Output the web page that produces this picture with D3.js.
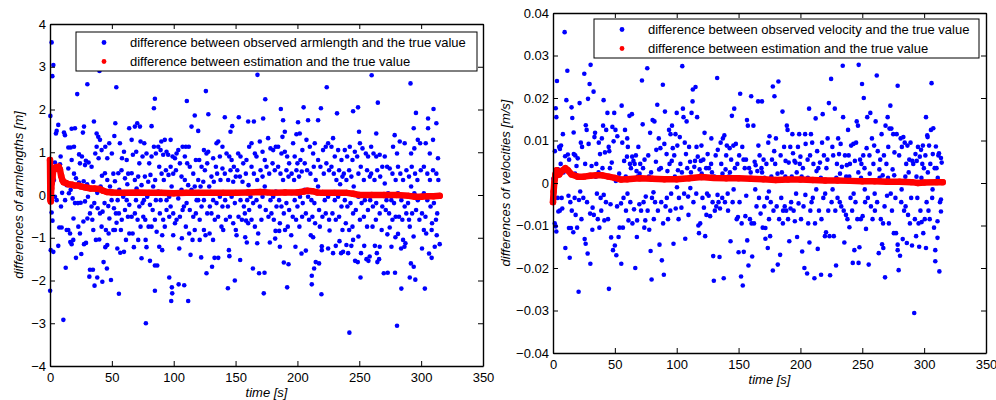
<!DOCTYPE html>
<html>
<head>
<meta charset="utf-8">
<script src="https://cdn.jsdelivr.net/npm/d3@7"></script>
<style>
  body { margin: 0; background: #fff; }
  svg { display: block; font-family: "Liberation Sans", Arial, sans-serif; }
  .axis text { font-size: 13px; fill: #000; }
  .axis path, .axis line { stroke: #000; }
</style>
</head>
<body>
<script>
var WIDTH = 996, HEIGHT = 400;

// shared x axis
var timeTicks = [0, 50, 100, 150, 200, 250, 300, 350];
var armTicks = [-4, -3, -2, -1, 0, 1, 2, 3, 4];
var velTicks = [-0.04, -0.03, -0.02, -0.01, 0, 0.01, 0.02, 0.03, 0.04];

var armLegend = ["difference between observed armlength and the true value",
                 "difference between estimation and the true value"];
var velLegend = ["difference between observed velocity and the true value",
                 "difference between estimation and the true value"];

// left panel: observed armlength differences [time s, diff m]
var armObserved = [
[0.3,1.85],[1.3,3.57],[2.7,3.04],[1.9,2.78],[0.1,-2.24],[0.8,0.55],[1.3,-0.41],[0.6,-1.29],[2.7,-1.33],[4,0.76],[4.8,1.44],[5.4,1.5],[6.7,1.64],[8.6,0.9],[7.5,-0.76],[9.4,-0.76],[6.7,-1.19],[5.4,-0.12],[4,-0.04],[8.9,-0.27],[8.1,0.72],[3.2,0.35],[9.8,0.05],[2,-0.6],
[10.8,-2.92],[11.3,1.46],[12.1,1.4],[14.8,1.11],[16.7,1.11],[17.5,1.55],[19.4,1.13],[20.2,1.56],[12.7,-1.7],[13.5,-0.82],[14.8,-0.82],[16.2,-0.9],[17.5,-1.15],[16.4,-1.1],[18.8,-1.05],[21,-1.47],[12.2,-0.12],[13.5,0.23],[14.8,0.62],[16.7,0.12],[18.3,-0.08],[19.4,0.5],[21,0.39],[17.5,0.82],[15.3,0.04],[20.2,-0.19],[11.5,0.3],[19,-0.55],
[22,2.36],[30.2,2.59],[24.2,0.74],[25.8,0.9],[26.6,1.46],[27.5,1.6],[28.3,0.7],[29,0.8],[31.2,0.76],[23.4,0.29],[25.3,0.2],[27.2,0.32],[30,0.25],[22.6,-0.19],[24.8,-0.18],[28.3,-0.15],[30.7,-0.04],[24.2,-0.9],[25.3,-1.38],[27.5,-1.15],[29.1,-1.12],[31.8,-1.91],[30.2,-0.55],[32.3,-0.43],[27,-0.62],[22.9,-0.74],[32.3,-1.75],[23.5,0.95],
[34.7,-1.75],[36,-2.12],[38.2,-1.93],[42.3,-2.03],[40,2.9],[35.5,1.72],[37.7,1.44],[39,1.36],[40.4,1.29],[37.7,1.13],[36.6,0.97],[41.7,1.05],[39.3,0.86],[33.6,0.66],[35,0.31],[36.3,0.16],[38.2,0.05],[40.9,0.2],[33.6,-0.27],[35.8,-0.19],[38.5,-0.31],[40.4,-0.43],[42.5,-0.39],[35,-0.82],[37.1,-1.05],[39.8,-1.04],[41.7,-0.74],[34.2,-0.58],[42,0.45],
[43.3,-1.57],[46,-1.72],[49.3,-1.99],[53.6,2.52],[44.7,1.13],[46.3,0.86],[47.9,1.21],[50,0.97],[52,1.38],[52.8,1.68],[44.4,0.51],[46.3,0.35],[48.5,0.2],[51.2,0.5],[52.5,0.32],[44.1,-0.19],[47.1,-0.26],[49.8,-0.12],[51.7,-0.31],[53.3,-0.43],[45.2,-0.82],[47.4,-0.9],[46.3,-1.17],[44.7,-1.22],[51.2,-0.82],[52.5,-0.82],[53.8,-0.65],[48,-0.55],
[54.4,-1.25],[56.8,-1.35],[59.8,-1.33],[55.7,-2.31],[56.5,1.21],[58.2,0.86],[59.8,1.01],[62,0.82],[64,1.56],[55.2,0.51],[57.8,0.58],[60.6,0.39],[63.2,0.5],[56,0.12],[59.2,-0.04],[62,-0.12],[64.1,-0.23],[55.7,-0.43],[58,-0.58],[60.6,-0.35],[63,-0.51],[57.3,-0.82],[61.4,-1.05],[64.1,-0.9],[54.7,-0.12],[62.5,0.25],
[67.8,-1.22],[74,-1.48],[71.3,-1.05],[66,1.29],[68.6,1.6],[70.5,1.68],[72.7,1.6],[73.2,1.25],[67,0.94],[69.7,1.01],[72.2,0.74],[74.8,0.9],[66,0.51],[68.6,0.35],[71.3,0.43],[74,0.23],[66.8,0.04],[69.5,-0.12],[72.2,-0.27],[74.8,-0.19],[66,-0.51],[68.6,-0.43],[70.8,-0.58],[73.2,-0.74],[75.4,-0.51],[66.8,-0.9],[70,0.15],
[77.5,-3.0],[77.3,-1.05],[78,-1.22],[80.8,-1.54],[84.8,-1.65],[84.8,-2.24],[84,2.03],[84.8,2.25],[82.1,1.61],[76.2,1.21],[78,0.97],[80.2,0.74],[82.1,0.9],[84,1.13],[85.6,0.97],[76.7,0.43],[79.4,0.31],[81.2,0.47],[83.4,0.2],[85,0.35],[75.9,-0.12],[78.6,-0.04],[80.8,-0.23],[83,-0.35],[85.6,-0.12],[77,-0.58],[79.7,-0.74],[82.1,-0.74],[84.8,-0.58],[86.2,-0.86],
[86.7,-1.65],[88.3,-1.21],[90.7,-0.94],[90.7,-1.29],[96.4,-1.93],[87.5,1.13],[89.4,1.05],[91.5,0.94],[92.8,1.29],[94.2,1.01],[95.5,0.94],[88.3,0.66],[90.2,0.5],[92,0.35],[93.7,0.58],[95.8,0.47],[87.5,0.08],[89.4,-0.12],[91.5,0.04],[94.2,-0.12],[96.4,-0.04],[88.8,-0.43],[91.5,-0.58],[94.2,-0.35],[96.4,-0.51],[92.8,-0.74],[90,1.25],
[98,-2.48],[98.8,-2.3],[98.5,-2.16],[104,-2.09],[99.6,-0.94],[104.5,-1.25],[106.6,-1.01],[97.5,1.29],[99.1,0.9],[101,0.86],[102.3,0.97],[103.7,1.05],[107.2,1.13],[97.5,0.66],[99.6,0.5],[101.8,0.58],[105,0.74],[106.3,0.43],[98.3,0.2],[101,0.04],[103.7,-0.08],[106.3,0.12],[97.5,-0.27],[99.6,-0.43],[102.3,-0.58],[105,-0.51],[107.2,-0.35],[101,-0.66],
[108.5,-2.11],[111.7,-2.48],[113.6,-1.4],[110.6,2.2],[117,1.86],[114.4,1.6],[109.8,1.13],[112.2,1.13],[109,0.9],[110.9,0.74],[113,0.66],[115.8,0.5],[117.9,0.82],[109,0.35],[111.7,0.23],[114.4,0.12],[117,0.2],[108.2,-0.27],[110.4,-0.19],[113,-0.35],[115.8,-0.51],[117.9,-0.43],[109.8,-0.74],[112.5,-0.9],[115.2,-1.05],[117,-0.82],[118.5,-0.12],
[122.2,-1.46],[121,-1.05],[125.7,-0.94],[129,-0.9],[126,2.43],[128,1.89],[119.8,1.5],[124.4,1.05],[126.5,0.97],[127.9,1.01],[120.6,0.82],[122.5,0.66],[125.2,0.58],[127.1,0.74],[119.8,0.35],[121.7,0.2],[123.9,0.31],[126,0.04],[128.7,0.2],[119.8,-0.12],[122.5,-0.27],[124.4,-0.12],[127.1,-0.43],[129.2,-0.27],[121,-0.58],[124.4,-0.82],[126.5,-1.83],
[133,-1.47],[136,-1.47],[131,-1.68],[131.8,-1.05],[134.6,1.21],[136,1.25],[131.9,0.86],[134.1,0.66],[137.3,0.9],[139.4,1.13],[130.5,0.43],[132.4,0.31],[135.1,0.5],[137.8,0.35],[139.4,0.62],[129.7,0.04],[131.9,-0.12],[134.6,-0.19],[137.3,-0.04],[139.4,-0.27],[130.5,-0.43],[133.2,-0.58],[135.9,-0.51],[138.6,-0.74],[140,-0.82],
[143.8,-2.18],[149.4,-2.0],[144.6,-1.29],[145,-1.43],[150.8,-0.94],[141.3,1.82],[145.9,1.48],[147.3,1.61],[152.6,1.82],[142.7,0.97],[144.9,0.9],[146.8,0.82],[148.6,0.66],[141.3,0.5],[144,0.35],[145.9,0.58],[148.1,0.31],[150.2,0.43],[141.6,-0.12],[143.8,-0.27],[146.8,-0.04],[149.4,-0.19],[142.2,-0.58],[145.4,-0.51],[148.1,-0.66],[150.2,-0.82],
[153.7,-1.52],[157.8,-0.99],[159.1,-1.11],[160.2,1.72],[152.1,0.97],[154,0.9],[156.2,0.74],[158.8,0.82],[161,1.13],[151.4,0.58],[153.5,0.43],[155.6,0.31],[158.3,0.5],[160.5,0.23],[152.1,0.04],[154,-0.12],[156.7,-0.27],[159.4,-0.12],[161,-0.35],[152.4,-0.51],[155.1,-0.58],[157.5,-0.43],[160.2,-0.66],[158.5,-0.6],
[164,-1.72],[169,-1.83],[167.5,-1.13],[167.7,2.81],[172.3,1.79],[164.8,1.72],[162.9,1.21],[165.6,0.97],[166.9,0.9],[169.6,1.25],[171.8,1.01],[162.9,0.66],[164.8,0.5],[167.5,0.35],[170.2,0.58],[171.8,0.43],[162.1,-0.04],[164.2,-0.19],[166.9,-0.12],[169.6,-0.27],[171.8,-0.04],[162.9,-0.58],[165.6,-0.74],[168.3,-0.9],[170.9,-0.58],
[172.8,-2.3],[173.4,-1.82],[174,2.24],[177.7,-1.11],[182,-1.02],[182.3,-0.84],[176.3,1.33],[178.2,1.09],[180.4,1.05],[182.5,1.13],[173.6,0.82],[175,0.66],[177.2,0.5],[179.9,0.74],[181.7,0.58],[173.6,0.2],[175.8,0.04],[178.2,-0.12],[180.4,-0.04],[182.5,0.08],[174.4,-0.35],[176.6,-0.51],[179,-0.43],[180.9,-0.58],[183.1,-0.27],
[186.6,2.01],[189,-1.58],[191.7,-2.16],[192.8,-1.62],[185.8,-1.21],[185.3,-0.84],[188.4,1.75],[189.8,1.48],[187.9,1.36],[184.4,1.13],[187.1,0.97],[189.8,1.01],[191.7,0.9],[193.3,0.74],[184.4,0.66],[186.3,0.5],[188.4,0.35],[191.1,0.58],[192.8,0.43],[185.2,-0.12],[187.1,-0.27],[189,-0.43],[191.1,-0.19],[193.3,-0.35],[185.8,-0.66],[190,-0.82],[192.2,-0.74],
[195,-0.94],[198.4,-1.21],[203.3,-1.37],[199.2,1.42],[200.5,1.7],[201.9,1.44],[196.5,1.21],[197.8,0.9],[200,0.74],[202.4,0.82],[204,1.05],[195.3,0.5],[197.3,0.35],[199.2,0.58],[201.3,0.43],[203.5,0.55],[195.3,0.04],[197.8,-0.12],[200,-0.27],[202.1,-0.04],[204.3,-0.19],[196.2,-0.51],[198.9,-0.58],[201.6,-0.74],[203.8,-0.51],
[205,2.05],[206.8,-1.3],[210.8,-0.94],[211.6,-2.09],[211.6,-1.89],[213.5,-1.72],[214.8,-1.57],[212.7,-0.99],[208.6,1.75],[207.3,1.29],[210,1.13],[212.7,0.97],[214,1.21],[205.9,0.74],[207.8,0.58],[210.5,0.5],[213.2,0.66],[214.8,0.35],[205.9,0.12],[208.6,-0.04],[211.3,-0.12],[213.7,-0.19],[206.8,-0.43],[209.4,-0.58],[212.1,-0.51],[214.3,-0.66],
[217.5,-1.6],[219,2.03],[219.4,-2.32],[219.7,-1.2],[219.7,-1.29],[223.7,2.52],[224.8,-1.25],[226,-0.83],[216.7,1.75],[220.7,1.05],[222.9,1.13],[224.8,1.21],[216.7,0.82],[218.6,0.66],[221.3,0.5],[223.4,0.74],[225.6,0.58],[216.7,0.2],[219.4,0.04],[222.1,-0.12],[224.8,-0.04],[217.5,-0.35],[220.2,-0.51],[222.9,-0.43],[225.6,-0.58],[218.1,-0.74],
[228.8,-1.36],[231,-1.19],[232,1.91],[234,-1.08],[235.3,-1.36],[236.9,-1.33],[228.8,1.33],[227.5,1.13],[230.2,0.9],[232.9,1.05],[235.6,0.82],[227.5,0.66],[229.4,0.5],[231.5,0.35],[233.7,0.58],[236.4,0.43],[227.5,0.04],[230.2,-0.12],[232.9,-0.04],[235.6,-0.27],[228.3,-0.43],[231,-0.58],[233.7,-0.51],[236.4,-0.82],[234.5,0.25],
[239.6,-1.17],[241,-1.36],[242,-3.22],[243.6,-1.19],[245,-1.05],[245,1.96],[246.6,-1.54],[238.3,1.05],[240.2,0.9],[242.3,1.13],[244.5,0.82],[246.4,1.01],[237.5,0.5],[239.6,0.35],[241.8,0.58],[243.6,0.43],[245.5,0.2],[238.3,-0.12],[240.4,-0.27],[242.9,-0.19],[245,-0.43],[247.2,-0.35],[239.1,-0.66],[241.8,-0.82],[244.5,-0.74],
[248.8,-1.57],[249,2.05],[249.3,-0.97],[251,-1.93],[251.4,-1.36],[254,-1.19],[255.8,-1.5],[257.4,-1.54],[249.8,1.48],[248.3,0.9],[250.5,1.21],[252.6,1.09],[255.3,0.97],[257.1,0.9],[249.3,0.5],[251.2,0.66],[253.7,0.35],[256.3,0.58],[258.5,0.43],[249.3,-0.04],[251.9,-0.19],[254.5,-0.12],[257,-0.35],[250.5,-0.58],[253.7,-0.51],[256.3,-0.74],
[258.4,-1.44],[260,2.8],[262.6,-1.19],[264.2,-1.36],[264.6,-1.57],[265,2.16],[266,-1.5],[266.5,-1.21],[263.7,1.44],[259.6,1.13],[261.5,0.97],[263.7,0.9],[266.5,0.94],[268.6,0.66],[259.6,0.5],[262.3,0.35],[264.5,0.58],[266.9,0.43],[258.8,-0.12],[261,-0.27],[263.7,-0.19],[266.5,-0.43],[268.6,-0.27],[260.7,-0.74],[263.4,-0.58],[268.1,-0.82],
[269.8,-1.83],[273,-1.82],[272.7,-0.92],[274.6,-0.76],[276,-1.21],[278.9,-1.82],[279.2,-0.99],[278.6,1.4],[277.3,1.13],[270.6,0.9],[272.5,0.66],[274.6,0.62],[276.8,0.5],[279.4,0.35],[270.6,0.27],[273.3,0.04],[275.9,-0.12],[278.1,-0.19],[271.4,-0.35],[274.1,-0.43],[276.8,-0.58],[279.4,-0.51],[272,-0.12],
[280.5,-3.06],[281.3,-0.91],[283.8,-1.25],[284,-2.19],[285.4,-1.05],[286.5,-1.21],[287.3,-1.13],[290.8,-0.74],[282.7,1.25],[286.7,1.21],[281.3,0.66],[283.2,0.5],[285.4,0.35],[288.1,0.58],[290.2,0.43],[281.3,0.04],[284,-0.12],[286.7,-0.27],[289.4,-0.19],[282.1,-0.51],[284.8,-0.58],[288,-0.43],[290.2,-0.58],[280.5,0.97],
[291.4,2.61],[290.8,-1.93],[291.7,-1.6],[294,-1.68],[295.3,-1.98],[295.8,1.92],[293.9,-0.97],[300.7,-1.25],[294,1.56],[291.9,0.97],[294.5,1.09],[297.3,1.29],[299.2,1.21],[292.4,0.66],[295.1,0.5],[297,0.35],[299.7,0.58],[291.9,0.2],[294.5,0.04],[297.3,-0.12],[299.9,-0.04],[292.7,-0.43],[295.9,-0.35],[298.6,-0.58],[300.7,-0.43],
[303,-2.19],[305.6,1.79],[306.4,-1.37],[308.5,-1.47],[310,2.01],[311,-1.21],[312.6,-0.94],[315,-1.15],[302.2,-0.82],[304.1,-0.9],[308.5,-0.82],[305.6,1.56],[309.6,1.29],[303.7,1.21],[307,0.97],[312.3,1.68],[313.6,0.86],[302.2,0.66],[305,0.5],[307.1,0.35],[309.6,0.58],[312.3,0.5],[313.9,0.35],[302.2,0.04],[305,-0.12],[307.6,-0.27],[310.3,-0.19],[313,-0.43],[303.5,-0.51],[308.8,-0.66],[312,-0.58]
];

// left panel: estimated armlength differences
var armEstimate = [
[0,0.82],[0.3,-0.1],[0.6,-0.15],[1,0.15],[1.5,0.3],[2,0.4],[2.5,0.55],[3,0.6],[4,0.63],[5,0.65],[6,0.62],[7,0.66],[8,0.6],[9,0.45],[10,0.35],[11,0.3],[13,0.28],[15,0.25],[18,0.24],[20,0.22],[23,0.22],[25,0.2],[28,0.18],[30,0.17],[33,0.15],[36,0.15],[40,0.14],[43,0.1],[46,0.07],[50,0.06],[55,0.05],[60,0.05],[70,0.06],[80,0.05],[90,0.05],[100,0.04],[110,0.05],[120,0.05],[130,0.05],[140,0.05],[150,0.05],[160,0.06],[170,0.07],[180,0.05],[190,0.06],[200,0.06],[205,0.08],[208,0.1],[212,0.09],[216,0.06],[220,0.05],[230,0.05],[240,0.05],[245,0.03],[250,0],[260,0],[270,0],[280,0],[290,-0.02],[295,-0.04],[300,-0.04],[305,-0.03],[310,-0.03],[315,-0.02]
];

// right panel: observed velocity differences [time s, diff m/s]
var velObserved = [
[0.3,0.001],[0.6,0.0005],[1,-0.0015],[1.5,0.0075],[2.2,0.0176],[2.7,0.0155],[3.2,0.024],[2.2,-0.0102],[2.7,-0.0114],[1.4,-0.0095],[4.3,-0.0067],[4,0.0032],[5,0.0085],[5.6,0.008],[6.5,0.0088],[7,-0.0035],[7.5,-0.006],[8,0.0115],[8.5,0.0025],[9.4,0.0355],[10,-0.0153],[10.8,0.0195],[9.8,0.0063],[6.2,0.0045],[3.8,-0.0035],[5.5,-0.0065],
[11.6,0.0264],[15,0.0178],[15.6,0.0153],[16.7,0.0119],[13.5,-0.0176],[12.9,-0.0106],[14.5,-0.0106],[16.4,-0.0116],[12,0.0067],[13,0.0055],[14,-0.0045],[15.2,-0.0065],[16.8,0.0068],[17.5,-0.0035],[18.3,-0.0075],[19,0.004],[20,0.0058],[20.7,-0.0256],[19.5,-0.0105],[18,0.0065],[21,-0.004],[21.5,0.0188],[12.5,-0.003],[17.8,0.0022],
[22.5,0.0095],[23.5,0.0085],[24,0.0015],[25.3,0.0257],[25.6,-0.0132],[26.4,-0.0143],[28,-0.0166],[28.3,0.0198],[29.6,0.0233],[30.4,0.0278],[30.2,-0.019],[31.8,-0.011],[32.8,0.0215],[23,-0.0085],[24.5,-0.0035],[26.5,0.0136],[27.2,0.0125],[28.8,0.0092],[30,-0.0072],[31.2,0.004],[32,-0.0058],[22,-0.002],[26,0.0045],[27.5,-0.0045],[31,0.0018],
[33.5,0.0108],[34,0.0118],[35,0.0045],[35.5,-0.0025],[36.2,-0.0085],[37,0.0095],[38,0.0068],[38.5,-0.0035],[39.5,0.0105],[40.9,0.0195],[40.5,0.0135],[41.5,-0.0088],[42,0.0072],[42.8,-0.0045],[33,-0.0075],[34.5,0.0015],[36.8,0.0025],[39,-0.0065],[41,-0.0028],[43,0.0125],[37.5,-0.0105],[40,0.0035],
[44,0.0165],[45.2,-0.0249],[45.5,0.0075],[46,0.0035],[47,-0.0128],[47.5,0.0048],[48.5,-0.0158],[49,0.0098],[50,-0.0147],[50.5,0.0125],[51.2,-0.017],[52,0.011],[53,-0.0127],[53.5,0.0022],[44.5,-0.0085],[46.5,-0.005],[48,0.0132],[49.5,0.0165],[51.8,-0.0055],[53.8,-0.0105],[45,0.0085],[50.8,0.0005],
[55.2,-0.019],[55.5,0.0182],[56,0.0095],[57,-0.0035],[57.5,0.0052],[58.2,0.0125],[59,-0.0065],[59.8,0.0062],[60.5,0.0085],[61,-0.0088],[61.8,0.0158],[62.5,-0.0045],[63,0.0035],[63.8,0.0162],[64.2,-0.0095],[56.5,-0.0105],[58.8,0.0015],[60.2,-0.0025],[62.2,0.0045],[64,0.0062],[55,-0.0048],[60,0.0105],
[65,0.0052],[66,0.0045],[66.5,-0.02],[67,0.0065],[67.8,-0.0127],[68.5,0.0015],[69,0.0085],[69.8,-0.005],[70.5,0.0045],[71.2,-0.0065],[71.9,0.0241],[72.5,0.0138],[73.2,-0.0045],[74,0.0055],[74.6,-0.0088],[75,-0.0032],[65.5,-0.0062],[67.5,0.0028],[70,0.0022],[72.8,0.0035],[68,-0.0088],[73.8,-0.0105],
[76.2,0.027],[76.5,-0.0065],[77,0.0065],[77.8,-0.011],[78.5,0.0118],[78.9,-0.016],[79.7,-0.0227],[80,-0.0035],[80.5,0.0148],[81.2,-0.0022],[82,0.0145],[82.5,-0.0045],[83.2,0.005],[84.3,0.0184],[84.8,-0.0065],[85.5,0.0105],[86.1,-0.0145],[77.5,0.0015],[79.3,0.0025],[81.5,-0.0085],[83.5,0.0078],[85.8,0.0032],
[86.8,0.0082],[87.5,-0.0045],[88,-0.0182],[88.8,0.0231],[89.6,-0.0216],[90,0.0092],[90.5,0.0168],[91,-0.0055],[91.8,0.0068],[92.5,0.0028],[93,-0.0085],[93.8,0.0125],[94.2,0.0045],[95,0.0115],[95.5,-0.0025],[96.2,0.0135],[96.8,0.0082],[87.2,0.0035],[89,-0.0095],[92,-0.0035],[94.8,-0.0065],[96,0.0052],
[97.4,-0.0143],[98,0.0065],[98.5,0.0015],[99.2,-0.006],[100,0.0165],[100.5,0.0088],[101,0.003],[101.8,-0.0035],[102.5,0.0108],[103,0.0045],[103.8,-0.0058],[104.5,0.0275],[105,0.0175],[105.5,0.0155],[106,-0.0025],[106.9,-0.0131],[107.5,0.0068],[99,0.0115],[101.5,-0.0085],[104.2,0.0025],[106.5,0.0095],[100.2,-0.001],
[108,0.0145],[108.5,0.0035],[109.2,-0.0032],[110,0.0085],[110.8,0.005],[111.5,0.0025],[112,0.0165],[112.8,0.0192],[113,0.022],[113.5,-0.0045],[114.2,0.0038],[114.8,0.0052],[115.2,0.0226],[115.8,-0.0025],[116.5,0.0155],[117,0.0062],[117.5,-0.01],[118,-0.0118],[109.5,-0.0075],[111,-0.0012],[116,0.0085],[118.5,0.0032],
[119,-0.0095],[119.5,0.0052],[120.2,0.0022],[120.8,-0.0035],[121.5,0.0055],[122,-0.0058],[122.5,0.0118],[123,-0.0125],[123.8,0.0035],[124.5,-0.0025],[125,0.0068],[125.8,-0.003],[126.5,0.0012],[127,-0.0078],[127.8,0.0045],[128.5,0.0025],[129,-0.0045],[120,0.0088],[124,-0.0075],[126,0.0035],[128,0.0105],
[129.5,-0.0172],[130,-0.023],[130.8,-0.0065],[131.5,0.0065],[132,-0.0055],[132.7,0.0247],[133.2,0.0078],[133.8,-0.0045],[134.6,-0.0174],[135,-0.006],[135.5,0.0095],[136,0.0045],[136.8,-0.0035],[137.3,0.0105],[138,-0.0224],[138.5,0.0112],[139,-0.0045],[139.5,0.0032],[130.5,0.0015],[133,-0.0028],[137,0.0022],[140,0.0065],
[140.5,0.0088],[141.2,-0.0025],[142,0.0015],[142.8,0.0082],[143.5,-0.0137],[144,0.0055],[144.6,0.0158],[145.2,-0.0045],[145.8,0.0088],[146.5,0.0175],[147,0.0035],[147.8,0.0092],[148.5,-0.0085],[149,0.0045],[149.5,-0.008],[150,-0.0163],[150.5,0.0065],[141.5,-0.0065],[143,0.0025],[146,-0.0015],[148,0.0012],[150.8,-0.0045],
[151.3,0.021],[152,-0.022],[152.5,-0.0095],[153,0.0085],[153.4,-0.0241],[154.2,-0.0162],[155,0.0035],[155.5,-0.0078],[156,0.0055],[156.8,0.0148],[157,-0.0135],[157.5,0.0135],[158,-0.0194],[158.5,0.0035],[159.2,-0.0085],[160.2,0.0204],[160.5,-0.0095],[161,-0.0173],[154,0.0055],[156.2,-0.003],[159.8,0.0025],[152.8,0.001],
[162,0.0135],[162.5,-0.0095],[163,0.005],[163.8,0.0042],[164.5,-0.0055],[165.2,0.0028],[165.8,0.0192],[166.5,-0.0035],[167,0.0065],[167.8,-0.0072],[168.5,0.0035],[168.9,0.0192],[169.5,-0.0105],[170.2,0.0055],[170.8,-0.0055],[171.7,-0.0131],[171.7,-0.0106],[163.5,-0.0015],[166,0.0088],[169,0.0025],[171,0.0012],
[172.5,0.0045],[173,-0.0035],[173.6,-0.0153],[174,0.0095],[174.6,-0.0085],[175,0.011],[175.5,-0.0125],[176,-0.0045],[176.5,0.0015],[177,0.0055],[177.7,0.0227],[177.7,-0.0206],[178.2,-0.0065],[179,0.0204],[179.6,0.0045],[180.2,0.0105],[180.8,-0.0055],[181.7,-0.0192],[182.2,0.0239],[182.8,-0.0085],[183.6,-0.0169],[174.5,-0.002],[178.8,0.0075],[181.5,0.0022],
[184,0.0065],[184.5,-0.0035],[185,0.0025],[185.5,0.0168],[186,-0.0065],[186.8,0.0085],[187.3,-0.0055],[188,0.0052],[188.5,-0.0065],[189,0.0135],[189.6,0.0125],[190,-0.0085],[190.5,0.0048],[191,-0.0137],[191.8,0.0085],[192.5,-0.0045],[193,0.0015],[193.5,0.0115],[185.8,-0.0095],[187.8,0.0015],[192,-0.006],[194,0.007],
[194.5,-0.0065],[195.2,0.0052],[196,0.0048],[196.5,-0.0025],[197.3,-0.0127],[198,0.0085],[198.5,-0.0048],[199,0.0115],[199.5,0.0045],[200,0.0062],[200.5,-0.0085],[201.4,-0.0161],[202,0.0035],[202.5,-0.0055],[203.2,-0.02],[203.8,0.0115],[204.2,0.0092],[195.5,-0.009],[197,0.0025],[201,0.0015],[204,-0.0028],
[205.4,-0.0213],[205.8,0.0055],[206.3,-0.0095],[207,0.0175],[207.3,-0.014],[207.8,0.0065],[208.5,0.0115],[209,-0.0045],[209.5,0.0095],[210,-0.0035],[210.5,0.0045],[211.3,-0.0224],[211.8,-0.0095],[212.3,0.0152],[212.8,-0.0015],[213.5,0.0075],[214,-0.0155],[214.5,0.0035],[215,-0.0065],[206,0.0012],[208,-0.0065],[213,0.0028],
[215.8,0.0048],[216.7,-0.0216],[217,-0.0085],[217.5,0.0095],[218,0.0162],[218.5,-0.0035],[219,0.0065],[219.8,-0.0125],[220.7,-0.0116],[221,0.0035],[221.8,0.0055],[222.5,-0.0065],[223,0.0188],[223.5,-0.0125],[224,-0.0217],[224.8,0.0245],[225.2,-0.0045],[225.8,0.0085],[216.5,0.0012],[220,-0.0025],[222,0.0105],[226,-0.0015],
[226.5,0.0065],[227,-0.0125],[227.8,0.0175],[228.2,-0.0065],[228.8,-0.0194],[229.5,0.0045],[230,-0.0035],[230.5,0.0105],[231.2,0.0068],[231.8,-0.0045],[232.5,0.0092],[233,-0.0055],[233.5,0.0038],[234.2,0.0276],[234.5,0.0155],[235,-0.0065],[235.5,-0.014],[236,0.0065],[236.8,-0.0075],[229,0.0012],[232,0.0022],[237,0.0015],
[237.5,0.0042],[238,-0.0085],[238.5,0.0125],[239,0.0065],[239.6,-0.0104],[240,0.0045],[240.5,-0.0035],[241,0.0088],[241.8,-0.0065],[242.3,-0.0188],[242.8,0.0092],[243.6,-0.0158],[244,0.0052],[244.5,-0.0045],[245,0.0095],[245.5,0.0145],[246,-0.0085],[246.5,0.0135],[247.1,0.0278],[247,-0.0188],[247.7,-0.0151],[239.5,0.0015],[243,-0.0025],[246.8,0.0025],
[248.2,0.0055],[248.8,-0.0085],[249.3,0.0045],[249.8,0.0233],[250.3,-0.0078],[250.8,0.0065],[251.2,0.02],[251.8,0.0035],[252.3,-0.0045],[253,-0.0108],[253.5,0.0082],[254,0.0155],[254.5,-0.0035],[255.2,-0.0192],[255.8,0.0065],[256.5,0.0165],[257,-0.0055],[257.8,0.0105],[258.3,-0.0085],[249,0.0012],[252,-0.0015],[256,0.0022],
[259,0.0045],[259.6,0.0088],[260.2,-0.0065],[260.8,0.0145],[261.7,0.0253],[262,-0.0045],[262.5,0.0075],[263.3,-0.0165],[263.8,0.0032],[264.5,0.0055],[265,-0.0085],[265.6,0.0115],[266,-0.0144],[266.5,0.0018],[267,-0.0153],[267.5,0.0065],[268,-0.0055],[268.4,-0.0222],[268.8,0.0135],[260,-0.0025],[264,0.0012],[266.8,-0.0095],
[269.5,0.0045],[270,-0.003],[270.5,0.0155],[271,0.0085],[271.5,-0.0095],[272,0.0128],[272.7,0.0182],[273,-0.0025],[273.5,0.0128],[274,-0.0065],[274.5,0.0032],[275,0.0115],[275.5,-0.0118],[276,0.0072],[276.8,-0.0035],[277.3,-0.0118],[277.8,0.0115],[278.6,0.0229],[278.6,-0.0145],[278.6,-0.0158],[279.4,-0.0205],[279.8,0.0065],[270.8,0.0012],[275.8,0.0018],
[280.5,-0.0171],[281,0.0105],[281.5,-0.0045],[282,0.0085],[282.7,-0.0132],[283.2,0.0108],[283.8,-0.0065],[284.3,0.0095],[285,-0.0055],[285.5,0.0045],[286,-0.0141],[286.5,0.0088],[287,-0.0075],[287.5,0.0025],[288,0.0055],[288.5,-0.0095],[289,0.0095],[289.5,-0.0035],[290.2,-0.0147],[290.5,0.0052],[284.8,0.0015],[281.8,-0.0015],
[291.2,0.0045],[292,-0.0306],[292.5,-0.0085],[293,0.0068],[293.5,-0.0125],[294,0.0052],[294.5,-0.0035],[295,0.0085],[295.5,-0.0095],[296,-0.015],[296.5,0.0062],[297,-0.0065],[297.5,0.0078],[298,-0.0092],[298.5,0.0045],[299,0.0088],[299.3,-0.0118],[299.8,0.0035],[300.5,-0.0085],[301,0.0065],[301.5,0.0155],[301.5,-0.0153],[293.8,0.0015],[297.8,0.0012],
[302,-0.0045],[302.5,0.0112],[302.8,0.0108],[303.5,-0.0065],[304,0.0088],[304.5,-0.0085],[305,0.0045],[305.5,0.0125],[306,0.0235],[306.5,-0.0035],[307,0.0068],[307.4,0.0129],[308,-0.0105],[308.5,0.0035],[309,-0.0184],[309,-0.0158],[309.5,0.0086],[310,0.0035],[310.8,-0.0129],[310.8,-0.009],[311.5,0.0065],[312,0.007],[312.3,-0.0208],[312.8,-0.0045],[313.6,0.0059],[313.6,-0.0067],[313.6,-0.0039],[314.2,0.0048],[303,0.0025],[306.8,-0.0015],[311,0.0012]
];

// right panel: estimated velocity differences
var velEstimate = [
[0,-0.0045],[0.5,-0.002],[1,0],[1.5,0.001],[2,0.002],[3,0.003],[4,0.0025],[5,0.002],[6,0.0025],[8,0.003],[10,0.0035],[12,0.003],[15,0.002],[20,0.0015],[25,0.0015],[30,0.0017],[35,0.0018],[40,0.0018],[45,0.0015],[50,0.0012],[55,0.0008],[60,0.0009],[70,0.0011],[80,0.001],[90,0.0009],[100,0.0009],[110,0.0011],[120,0.0014],[130,0.0012],[140,0.0011],[150,0.0011],[160,0.001],[170,0.0009],[180,0.0007],[190,0.0008],[200,0.0008],[210,0.0007],[220,0.0006],[230,0.0006],[240,0.0005],[250,0.0004],[260,0.0004],[270,0.0003],[280,0.0003],[290,0.0002],[295,0],[300,0.0001],[310,0.0002],[315,0.0002]
];

var svg = d3.select("body").append("svg")
    .attr("width", WIDTH)
    .attr("height", HEIGHT);

var drawPanel = function(p){
  var x = d3.scaleLinear().domain([0, 350]).range([p.left, p.right]);
  var y = d3.scaleLinear().domain([p.yTicks[0], p.yTicks[p.yTicks.length-1]]).range([p.bottom, p.top]);
  var g = svg.append("g");

  // points
  g.append("g").selectAll("circle").data(p.observed)
    .enter().append("circle")
      .attr("cx", function(d){return x(d[0])})
      .attr("cy", function(d){return y(d[1])})
      .attr("r", 2.3)
      .attr("fill", "#0000ff");

  var line = d3.line().x(function(d){return x(d[0])}).y(function(d){return y(d[1])});
  g.append("path").datum(p.estimate)
    .attr("d", line)
    .attr("fill", "none")
    .attr("stroke", "#ff0000")
    .attr("stroke-width", 6.5)
    .attr("stroke-linejoin", "round")
    .attr("stroke-linecap", "round");
  g.append("g").selectAll("circle").data(p.estimate)
    .enter().append("circle")
      .attr("cx", function(d){return x(d[0])})
      .attr("cy", function(d){return y(d[1])})
      .attr("r", 3.2)
      .attr("fill", "#ff0000");

  // axes, ticks pointing inward like matlab
  g.append("g").attr("class", "axis")
    .attr("transform", "translate(0," + p.bottom + ")")
    .call(d3.axisBottom(x).tickValues(timeTicks).tickSizeInner(-5).tickSizeOuter(0).tickPadding(7));
  g.append("g").attr("class", "axis")
    .attr("transform", "translate(0," + p.top + ")")
    .call(d3.axisTop(x).tickValues(timeTicks).tickSizeInner(-5).tickSizeOuter(0).tickFormat(""));
  g.append("g").attr("class", "axis")
    .attr("transform", "translate(" + p.left + ",0)")
    .call(d3.axisLeft(y).tickValues(p.yTicks).tickSizeInner(-5).tickSizeOuter(0).tickPadding(4).tickFormat(p.fmt));
  g.append("g").attr("class", "axis")
    .attr("transform", "translate(" + p.right + ",0)")
    .call(d3.axisRight(y).tickValues(p.yTicks).tickSizeInner(-5).tickSizeOuter(0).tickFormat(""));
  g.selectAll(".axis path").attr("stroke-width", 1.4);

  g.append("text")
    .attr("x", (p.left + p.right) / 2)
    .attr("y", p.bottom + 31)
    .attr("text-anchor", "middle")
    .attr("font-style", "italic")
    .attr("font-size", 13)
    .text("time [s]");
  g.append("text")
    .attr("transform", "translate(" + (p.left - p.labelGap) + "," + ((p.top + p.bottom) / 2) + ") rotate(-90)")
    .attr("text-anchor", "middle")
    .attr("font-style", "italic")
    .attr("font-size", 13)
    .text(p.yLabel);

  // legend
  var lg = g.append("g").attr("transform", "translate(" + p.legend[0] + "," + p.legend[1] + ")");
  lg.append("rect")
    .attr("width", p.legend[2]).attr("height", 39)
    .attr("fill", "#fff").attr("stroke", "#000").attr("stroke-width", 1);
  var colors = ["#0000ff", "#ff0000"];
  p.labels.forEach(function(t, i){
    lg.append("circle").attr("cx", 28).attr("cy", 10.5 + i * 19).attr("r", 2.4).attr("fill", colors[i]);
    lg.append("text").attr("x", 54).attr("y", 15 + i * 19).attr("font-size", 13).text(t);
  });
};

drawPanel({
  left: 50, right: 483, top: 24, bottom: 366,
  yTicks: armTicks, fmt: d3.format("d"),
  observed: armObserved, estimate: armEstimate,
  yLabel: "differences of armlengths [m]", labelGap: 27,
  legend: [76, 32, 401], labels: armLegend
});

drawPanel({
  left: 553, right: 986, top: 13, bottom: 353,
  yTicks: velTicks, fmt: function(d){ return d === 0 ? "0" : d3.format(".2f")(d); },
  observed: velObserved, estimate: velEstimate,
  yLabel: "differences of velocities [m/s]", labelGap: 43,
  legend: [594, 19, 385], labels: velLegend
});
</script>
</body>
</html>
